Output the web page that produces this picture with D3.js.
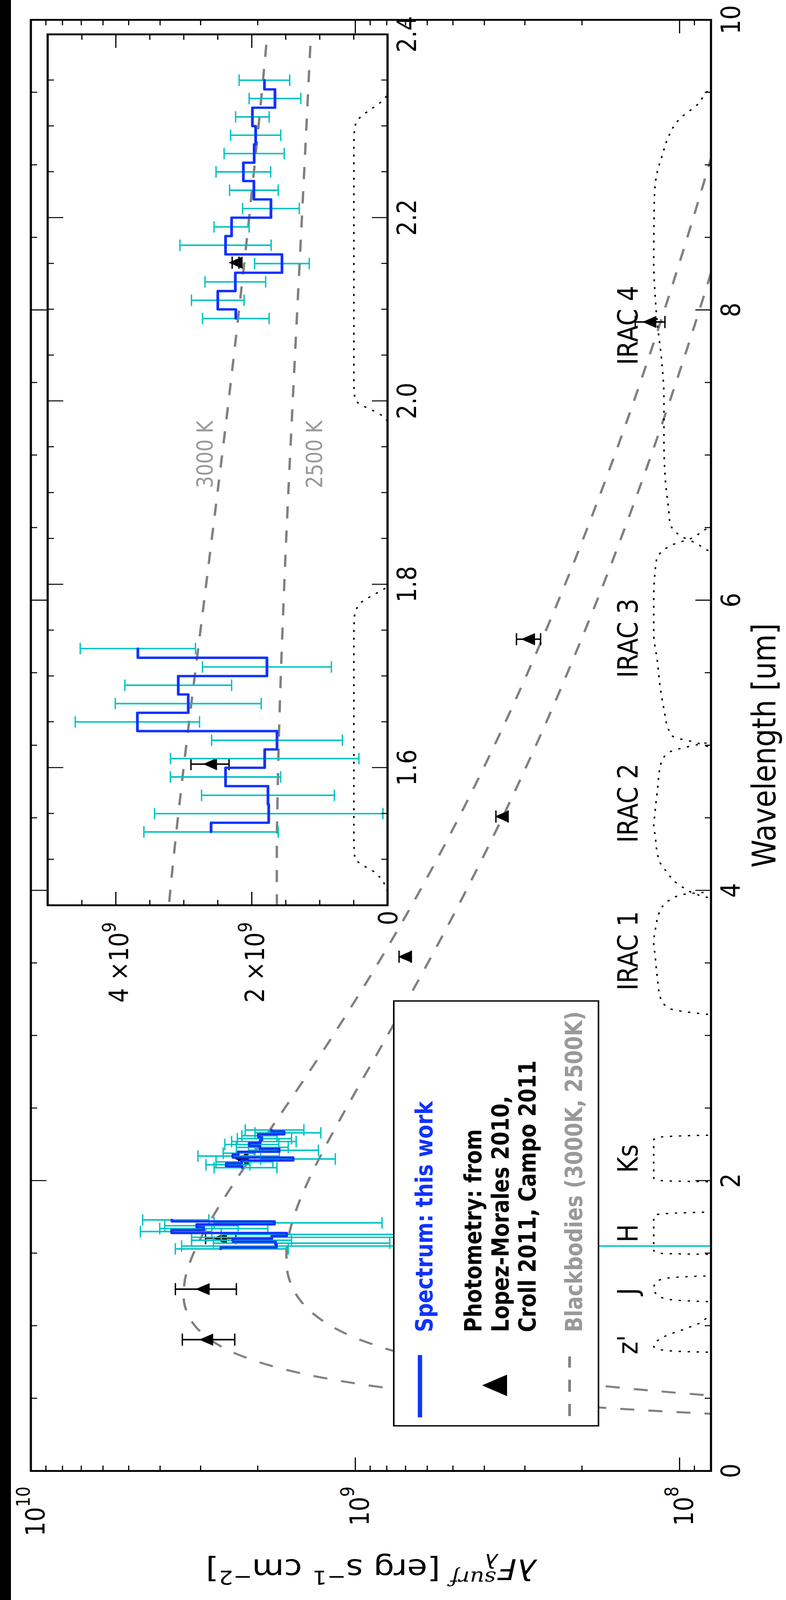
<!DOCTYPE html>
<html><head><meta charset="utf-8">
<script src="https://cdn.jsdelivr.net/npm/d3@7"></script>
<style>html,body{margin:0;padding:0;background:#fff;overflow:hidden} svg{display:block}</style>
</head><body>
<script>
// ---------------- data ----------------
const specWaveH = [1.53,1.55,1.57,1.59,1.61,1.63,1.65,1.67,1.69,1.71,1.73];
const specFluxH = [2.596e9,1.748e9,1.759e9,2.383e9,1.807e9,1.626e9,3.680e9,2.932e9,3.079e9,1.774e9,3.673e9];
const specErrH  = [0.988e9,1.680e9,0.977e9,0.811e9,1.386e9,0.962e9,0.914e9,1.073e9,0.785e9,0.948e9,0.848e9];
const specWaveK = [2.09,2.11,2.13,2.15,2.17,2.19,2.21,2.23,2.25,2.27,2.29,2.31,2.33,2.35];
const specFluxK = [2.232e9,2.497e9,2.239e9,1.553e9,2.383e9,2.294e9,1.715e9,1.966e9,2.121e9,1.962e9,1.940e9,1.988e9,1.656e9,1.811e9];
const specErrK  = [0.490e9,0.387e9,0.446e9,0.402e9,0.671e9,0.258e9,0.417e9,0.358e9,0.402e9,0.442e9,0.369e9,0.247e9,0.380e9,0.372e9];

const photWave = [0.905,1.253,1.604,2.151,3.544,4.51,5.732,7.918];
const photFlux = [2.881e9,2.954e9,2.612e9,2.236e9,7.02e8,3.53e8,2.93e8,1.238e8];
const photErr  = [0.53e9,0.63e9,0.28e9,0.05e9,0.3e8,0.15e8,0.25e8,0.13e8];

const bbWave3000 = [0.35,0.40,0.45,0.50,0.55,0.60,0.65,0.70,0.80,0.90,1.0,1.1,1.2,1.3,1.4,1.5,1.6,1.8,2.0,2.2,2.4,2.6,3.0,3.5,4.0,4.5,5.0,6.0,7.0,8.0,9.0,10.0];
const bbFlux3000 = [2.792e7,9.073e7,2.146e8,4.088e8,6.679e8,9.755e8,1.3102e9,1.6507e9,2.2816e9,2.7794e9,3.1178e9,3.3082e9,3.3784e9,3.3582e9,3.2747e9,3.1497e9,2.9996e9,2.6681e9,2.3384e9,2.0359e9,1.7687e9,1.5375e9,1.1706e9,8.4917e8,6.3090e8,4.7949e8,3.7195e8,2.3588e8,1.5837e8,1.1124e8,8.1028e7,6.080e7];
const bbWave2500 = [0.45,0.50,0.55,0.60,0.65,0.70,0.75,0.80,0.90,1.0,1.1,1.2,1.3,1.4,1.5,1.6,1.8,2.0,2.2,2.4,2.6,3.0,3.5,4.0,4.5,5.0,6.0,7.0,8.0,8.5,9.0];
const bbFlux2500 = [2.547e7,6.003e7,1.1675e8,1.9717e8,2.9939e8,4.1900e8,5.5016e8,6.8673e8,9.5434e8,1.1886e9,1.3729e9,1.5036e9,1.5846e9,1.6235e9,1.6290e9,1.6089e9,1.5190e9,1.3945e9,1.2597e9,1.1277e9,1.0050e9,7.9512e8,5.9690e8,4.5456e8,3.5194e8,2.7699e8,1.7938e8,1.2219e8,8.6741e7,7.4044e7,6.3689e7];

// filter transmission curves (relative)
const bandZWave  = [0.80,0.815,0.825,0.84,0.86,0.93,0.975,1.02,1.07,1.10,1.12];
const bandZTrans = [0,0.5,0.85,0.97,1.0,0.92,0.81,0.72,0.66,0.5,0];
const bandJWave  = [1.15,1.16,1.167,1.18,1.197,1.23,1.26,1.29,1.32,1.335,1.344,1.355,1.365];
const bandJTrans = [0,0.4,0.67,0.88,0.95,0.99,1.0,0.99,0.95,0.85,0.67,0.3,0];
const bandHWave  = [1.465,1.475,1.487,1.495,1.501,1.52,1.75,1.766,1.780,1.790,1.797];
const bandHTrans = [0,0.12,0.42,0.79,0.97,1.0,1.0,0.98,0.79,0.35,0];
const bandKWave  = [1.978,1.985,1.990,1.996,2.003,2.02,2.28,2.297,2.310,2.317,2.326,2.334];
const bandKTrans = [0,0.2,0.45,0.8,0.97,1.0,1.0,0.98,0.8,0.55,0.2,0];
const bandI1Wave  = [3.08,3.12,3.145,3.17,3.19,3.265,3.40,3.55,3.64,3.75,3.85,3.93,3.975,3.99,4.02,4.05];
const bandI1Trans = [0,0.5,0.67,0.83,0.90,0.955,0.975,0.99,1.0,0.985,0.96,0.90,0.80,0.67,0.3,0];
const bandI2Wave  = [3.90,3.94,3.95,3.975,4.02,4.07,4.12,4.19,4.26,4.38,4.45,4.50,4.685,4.875,4.95,5.0,5.02,5.05,5.1];
const bandI2Trans = [0,0.5,0.67,0.74,0.81,0.87,0.905,0.955,0.975,0.99,1.0,0.995,0.975,0.95,0.90,0.75,0.67,0.4,0];
const bandI3Wave  = [4.95,4.98,4.99,5.02,5.06,5.11,5.25,5.40,5.585,5.77,6.01,6.20,6.28,6.38,6.43,6.50,6.55,6.6];
const bandI3Trans = [0,0.5,0.67,0.74,0.87,0.90,0.93,0.955,0.975,1.0,1.0,0.99,0.98,0.88,0.76,0.67,0.4,0];
const bandI4Wave  = [6.25,6.30,6.34,6.39,6.44,6.53,6.63,6.82,7.10,7.39,7.67,7.91,8.10,8.33,8.6,8.78,8.93,9.07,9.17,9.32,9.42,9.52,9.6,9.7];
const bandI4Trans = [0,0.4,0.67,0.735,0.82,0.89,0.90,0.92,0.93,0.93,0.947,0.975,0.99,1.0,0.998,0.995,0.98,0.94,0.91,0.83,0.73,0.67,0.4,0];
const bandPeakMain = 1.2e8;
const bandPeakInset = 0.495e9;

const bandLabels    = ["z'", "J", "H", "Ks", "IRAC 1", "IRAC 2", "IRAC 3", "IRAC 4"];
const bandLabelWave = [0.870, 1.237, 1.638, 2.153, 3.585, 4.602, 5.739, 7.895];

const xMajor = [0,2,4,6,8,10];
const xMinor = d3.range(0.5,10,0.5).filter(v => Math.abs(v/2-Math.round(v/2))>1e-6);
const yMajor = [1e8,1e9,1e10];
const yMinor = [9e7,2e8,3e8,4e8,5e8,6e8,7e8,8e8,9e8,2e9,3e9,4e9,5e9,6e9,7e9,8e9,9e9];
const yMajorExp = ["8","9","10"];
const ixMajor = [1.6,1.8,2.0,2.2,2.4];
const ixMinor = [1.45,1.5,1.55,1.65,1.7,1.75,1.85,1.9,1.95,2.05,2.1,2.15,2.25,2.3,2.35];
const iyMajor = [0,2e9,4e9];
const iyMajorMant = ["0","2","4"];
const iyMinor = [0.5e9,1e9,1.5e9,2.5e9,3e9,3.5e9,4.5e9,5e9];

const legendLabels = ["Spectrum: this work", ["Photometry: from","Lopez-Morales 2010,","Croll 2011, Campo 2011"], "Blackbodies (3000K, 2500K)"];

// ---------------- drawing ----------------
const W = 2012, H = 4749;
const BLUE = "#1032ff", CYAN = "#00c2c2", GRAY = "#808080", LGRAY = "#999999";
const FONT = "DejaVu Sans, sans-serif";

// the whole figure is kept inside the visible window
const VH = Math.min(window.innerHeight || H, H);
const svg = d3.select("body").append("svg")
  .attr("width", W).attr("height", VH)
  .attr("viewBox", `0 0 ${W} ${H}`).attr("preserveAspectRatio", "none");
svg.append("rect").attr("width", W).attr("height", H).attr("fill", "#fff");
svg.append("rect").attr("x", 0).attr("y", 0).attr("width", 28).attr("height", H).attr("fill", "#000");

// landscape layer (the original figure is rotated 90 deg counter-clockwise)
const L = svg.append("g").attr("transform", `translate(0,${H}) rotate(-90)`);

const M = {x0: 383, x1: 4690, y0: 79, y1: 1820};
const x = d3.scaleLinear().domain([0, 10]).range([M.x0, M.x1]);
const y = d3.scaleLog().domain([7.99e7, 1e10]).range([M.y1, M.y0]);

const I = {x0: 2062, x1: 4647, y0: 122, y1: 992};
const xi = d3.scaleLinear().domain([1.45, 2.4]).range([I.x0, I.x1]);
const yi = d3.scaleLinear().domain([0, 5e9]).range([I.y1, I.y0]);

const defs = svg.append("defs");
defs.append("clipPath").attr("id", "clipMain").append("rect")
  .attr("x", M.x0).attr("y", M.y0).attr("width", M.x1 - M.x0).attr("height", M.y1 - M.y0);
defs.append("clipPath").attr("id", "clipInset").append("rect")
  .attr("x", I.x0).attr("y", I.y0).attr("width", I.x1 - I.x0).attr("height", I.y1 - I.y0);

const zip = (a, b) => a.map((v, i) => [v, b[i]]);

function drawContent(g, xs, ys, isLog, bandPeak, opts) {
  const safe = v => isLog ? Math.max(v, 1e6) : v;
  const line = d3.line().x(d => xs(d[0])).y(d => ys(safe(d[1])));
  // blackbodies
  [[bbWave3000, bbFlux3000], [bbWave2500, bbFlux2500]].forEach(([w, f]) => {
    g.append("path").attr("d", line.curve(d3.curveMonotoneX)(zip(w, f)))
      .attr("fill", "none").attr("stroke", GRAY).attr("stroke-width", 6)
      .attr("stroke-dasharray", "36,36");
  });
  // filter curves
  opts.bands.forEach(([w, t]) => {
    g.append("path").attr("d", line.curve(d3.curveMonotoneX)(zip(w, t.map(v => v * bandPeak))))
      .attr("fill", "none").attr("stroke", "#000").attr("stroke-width", 4)
      .attr("stroke-dasharray", "6,17");
  });
  const low = (v) => isLog ? (v > 0 ? ys(v) : ys.range()[0] + 200) : ys(v);
  // photometry
  photWave.forEach((w, i) => {
    const X = xs(w), Y = ys(photFlux[i]);
    const Ylo = low(photFlux[i] - photErr[i]), Yhi = ys(photFlux[i] + photErr[i]);
    g.append("line").attr("x1", X).attr("x2", X).attr("y1", Ylo).attr("y2", Yhi)
      .attr("stroke", "#000").attr("stroke-width", 4.5);
    [Ylo, Yhi].forEach(c => g.append("line").attr("x1", X - 18).attr("x2", X + 18)
      .attr("y1", c).attr("y2", c).attr("stroke", "#000").attr("stroke-width", 3.5));
    const s = 18;
    g.append("path").attr("d", `M${X},${Y - s}L${X - s},${Y + s}L${X + s},${Y + s}Z`).attr("fill", "#000");
  });
  // spectrum error bars
  [[specWaveH, specFluxH, specErrH], [specWaveK, specFluxK, specErrK]].forEach(([w, f, e]) => {
    w.forEach((wv, i) => {
      const X = xs(wv);
      const Ylo = low(f[i] - e[i]), Yhi = ys(f[i] + e[i]);
      g.append("line").attr("x1", X).attr("x2", X).attr("y1", Ylo).attr("y2", Yhi)
        .attr("stroke", CYAN).attr("stroke-width", 4.5);
      [Ylo, Yhi].forEach(c => g.append("line").attr("x1", X - 17).attr("x2", X + 17)
        .attr("y1", c).attr("y2", c).attr("stroke", CYAN).attr("stroke-width", 3.5));
    });
  });
  // spectrum (steps)
  [[specWaveH, specFluxH], [specWaveK, specFluxK]].forEach(([w, f]) => {
    g.append("path").attr("d", line.curve(d3.curveStep)(zip(w, f)))
      .attr("fill", "none").attr("stroke", BLUE).attr("stroke-width", 7)
      .attr("stroke-linejoin", "round").attr("stroke-linecap", "round");
  });
}

function styleAxis(sel, fs) {
  sel.select(".domain").remove();
  sel.selectAll(".tick line").attr("stroke", "#000").attr("stroke-width", 3);
  sel.selectAll(".tick text").attr("font-family", FONT).attr("font-size", fs).attr("fill", "#000");
}

// ---- main axes ----
L.append("rect").attr("x", M.x0).attr("y", M.y0).attr("width", M.x1 - M.x0).attr("height", M.y1 - M.y0).attr("fill", "#fff");
const gMain = L.append("g").attr("clip-path", "url(#clipMain)");
drawContent(gMain, x, y, true, bandPeakMain, {
  bands: [[bandZWave, bandZTrans], [bandJWave, bandJTrans], [bandHWave, bandHTrans], [bandKWave, bandKTrans],
          [bandI1Wave, bandI1Trans], [bandI2Wave, bandI2Trans], [bandI3Wave, bandI3Trans], [bandI4Wave, bandI4Trans]]
});

const TF = 68;
L.append("g").attr("transform", `translate(0,${M.y1})`)
  .call(d3.axisBottom(x).tickValues(xMajor).tickSizeInner(-40).tickSizeOuter(0).tickPadding(26).tickFormat(d => String(d)))
  .call(s => styleAxis(s, TF));
L.append("g").attr("transform", `translate(0,${M.y1})`)
  .call(d3.axisBottom(x).tickValues(xMinor).tickSizeInner(-16).tickSizeOuter(0).tickFormat(""))
  .call(s => styleAxis(s, TF));
L.append("g").attr("transform", `translate(0,${M.y0})`)
  .call(d3.axisTop(x).tickValues(xMajor).tickSizeInner(-40).tickSizeOuter(0).tickFormat(""))
  .call(s => styleAxis(s, TF));
L.append("g").attr("transform", `translate(0,${M.y0})`)
  .call(d3.axisTop(x).tickValues(xMinor).tickSizeInner(-16).tickSizeOuter(0).tickFormat(""))
  .call(s => styleAxis(s, TF));
const gLeft = L.append("g").attr("transform", `translate(${M.x0},0)`)
  .call(d3.axisLeft(y).tickValues(yMajor).tickSizeInner(-40).tickSizeOuter(0).tickFormat(""))
  .call(s => styleAxis(s, TF));
L.append("g").attr("transform", `translate(${M.x0},0)`)
  .call(d3.axisLeft(y).tickValues(yMinor).tickSizeInner(-16).tickSizeOuter(0).tickFormat(""))
  .call(s => styleAxis(s, TF));
L.append("g").attr("transform", `translate(${M.x1},0)`)
  .call(d3.axisRight(y).tickValues(yMajor).tickSizeInner(-40).tickSizeOuter(0).tickFormat(""))
  .call(s => styleAxis(s, TF));
L.append("g").attr("transform", `translate(${M.x1},0)`)
  .call(d3.axisRight(y).tickValues(yMinor).tickSizeInner(-16).tickSizeOuter(0).tickFormat(""))
  .call(s => styleAxis(s, TF));
gLeft.selectAll(".tick").each(function(d, i) {
  const t = d3.select(this).append("text").attr("x", -46).attr("y", 34)
    .attr("text-anchor", "end").attr("font-family", FONT).attr("font-size", TF).attr("fill", "#000");
  t.append("tspan").text("10");
  t.append("tspan").attr("dy", -38).attr("font-size", 48).text(yMajorExp[i]);
});
L.append("rect").attr("x", M.x0).attr("y", M.y0).attr("width", M.x1 - M.x0).attr("height", M.y1 - M.y0)
  .attr("fill", "none").attr("stroke", "#000").attr("stroke-width", 5.5);

// axis labels
L.append("text").attr("x", (M.x0 + M.x1) / 2).attr("y", 1985).attr("text-anchor", "middle")
  .attr("font-family", FONT).attr("font-size", 84).text("Wavelength [um]");
const yl = L.append("text").attr("transform", `translate(121,${(M.y0 + M.y1) / 2}) rotate(-90)`)
  .attr("text-anchor", "middle").attr("font-family", FONT).attr("font-size", 84);
yl.append("tspan").attr("font-style", "italic").text("λF");
yl.append("tspan").attr("font-style", "italic").attr("font-size", 58).attr("dy", 16).text("λ");
yl.append("tspan").attr("font-family", "DejaVu Serif, serif").attr("font-style", "italic").attr("font-size", 58).attr("dx", -30).attr("dy", -52).text("surf");
yl.append("tspan").attr("dy", 36).text(" [erg s");
yl.append("tspan").attr("font-size", 58).attr("dy", -34).text("−1");
yl.append("tspan").attr("dy", 34).text(" cm");
yl.append("tspan").attr("font-size", 58).attr("dy", -34).text("−2");
yl.append("tspan").attr("dy", 34).text("]");

// band labels
bandLabels.forEach((lab, i) => {
  L.append("text").attr("x", x(bandLabelWave[i])).attr("y", 1632).attr("text-anchor", "middle")
    .attr("font-family", FONT).attr("font-size", 72).text(lab);
});

// ---- legend ----
const lg = L.append("g");
lg.append("rect").attr("x", 517).attr("y", 1008).attr("width", 1261).attr("height", 524)
  .attr("fill", "#fff").attr("stroke", "#000").attr("stroke-width", 4);
lg.append("line").attr("x1", 542).attr("x2", 727).attr("y1", 1075).attr("y2", 1075)
  .attr("stroke", BLUE).attr("stroke-width", 11);
lg.append("path").attr("d", "M637,1234L605,1298L669,1298Z").attr("fill", "#000");
lg.append("line").attr("x1", 546).attr("x2", 723).attr("y1", 1458).attr("y2", 1458)
  .attr("stroke", GRAY).attr("stroke-width", 7).attr("stroke-dasharray", "36,36");
const legTxt = (txt, yy, col) => lg.append("text").attr("x", 795).attr("y", yy)
  .attr("font-family", FONT).attr("font-weight", "bold").attr("font-size", 60).attr("fill", col).text(txt);
legTxt(legendLabels[0], 1107, BLUE);
legTxt(legendLabels[1][0], 1232, "#000");
legTxt(legendLabels[1][1], 1302, "#000");
legTxt(legendLabels[1][2], 1371, "#000");
legTxt(legendLabels[2], 1490, LGRAY);

// ---- inset ----
L.append("rect").attr("x", I.x0).attr("y", I.y0).attr("width", I.x1 - I.x0).attr("height", I.y1 - I.y0).attr("fill", "#fff");
const gIn = L.append("g").attr("clip-path", "url(#clipInset)");
drawContent(gIn, xi, yi, false, bandPeakInset, {bands: [[bandHWave, bandHTrans], [bandKWave, bandKTrans]]});
L.append("text").attr("x", xi(1.905)).attr("y", 545).attr("font-family", FONT).attr("font-size", 57).attr("fill", LGRAY).text("3000 K");
L.append("text").attr("x", xi(1.905)).attr("y", 825).attr("font-family", FONT).attr("font-size", 57).attr("fill", LGRAY).text("2500 K");

L.append("g").attr("transform", `translate(0,${I.y1})`)
  .call(d3.axisBottom(xi).tickValues(ixMajor).tickSizeInner(-40).tickSizeOuter(0).tickPadding(25).tickFormat(d3.format(".1f")))
  .call(s => styleAxis(s, TF));
L.append("g").attr("transform", `translate(0,${I.y1})`)
  .call(d3.axisBottom(xi).tickValues(ixMinor).tickSizeInner(-16).tickSizeOuter(0).tickFormat(""))
  .call(s => styleAxis(s, TF));
L.append("g").attr("transform", `translate(0,${I.y0})`)
  .call(d3.axisTop(xi).tickValues(ixMajor).tickSizeInner(-40).tickSizeOuter(0).tickFormat(""))
  .call(s => styleAxis(s, TF));
L.append("g").attr("transform", `translate(0,${I.y0})`)
  .call(d3.axisTop(xi).tickValues(ixMinor).tickSizeInner(-16).tickSizeOuter(0).tickFormat(""))
  .call(s => styleAxis(s, TF));
const gIL = L.append("g").attr("transform", `translate(${I.x0},0)`)
  .call(d3.axisLeft(yi).tickValues(iyMajor).tickSizeInner(-40).tickSizeOuter(0).tickFormat(""))
  .call(s => styleAxis(s, TF));
L.append("g").attr("transform", `translate(${I.x0},0)`)
  .call(d3.axisLeft(yi).tickValues(iyMinor).tickSizeInner(-16).tickSizeOuter(0).tickFormat(""))
  .call(s => styleAxis(s, TF));
L.append("g").attr("transform", `translate(${I.x1},0)`)
  .call(d3.axisRight(yi).tickValues(iyMajor).tickSizeInner(-40).tickSizeOuter(0).tickFormat(""))
  .call(s => styleAxis(s, TF));
L.append("g").attr("transform", `translate(${I.x1},0)`)
  .call(d3.axisRight(yi).tickValues(iyMinor).tickSizeInner(-16).tickSizeOuter(0).tickFormat(""))
  .call(s => styleAxis(s, TF));
gIL.selectAll(".tick").each(function(d, i) {
  const g = d3.select(this);
  if (d === 0) {
    g.append("text").attr("x", -16).attr("y", 24).attr("text-anchor", "end")
      .attr("font-family", FONT).attr("font-size", TF).attr("fill", "#000").text(iyMajorMant[i]);
  } else {
    const t = g.append("text").attr("x", -50).attr("y", 31).attr("text-anchor", "end")
      .attr("font-family", FONT).attr("font-size", TF).attr("fill", "#000");
    t.append("tspan").text(iyMajorMant[i] + " ×10");
    t.append("tspan").attr("dy", -32).attr("font-size", 48).text("9");
  }
});
L.append("rect").attr("x", I.x0).attr("y", I.y0).attr("width", I.x1 - I.x0).attr("height", I.y1 - I.y0)
  .attr("fill", "none").attr("stroke", "#000").attr("stroke-width", 5.5);
</script>
</body></html>
